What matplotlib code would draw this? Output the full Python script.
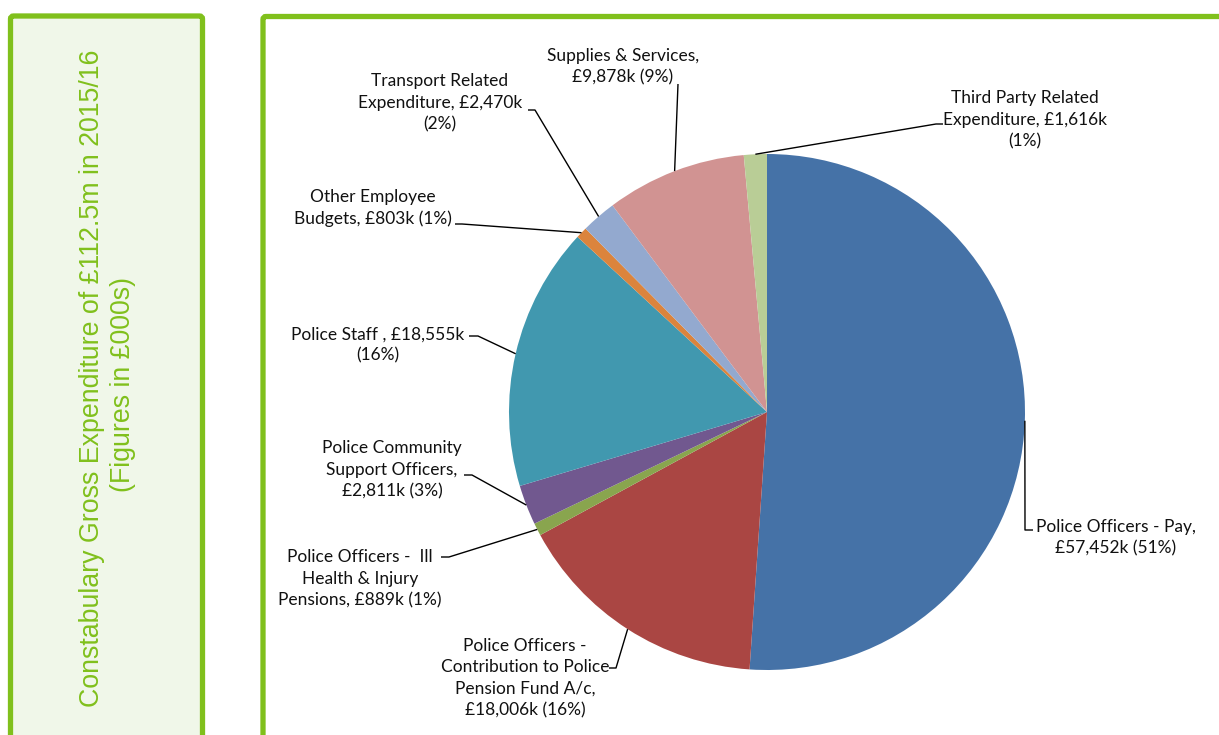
import numpy as np
import matplotlib
matplotlib.use("Agg")
import matplotlib.pyplot as plt
from matplotlib.patches import FancyBboxPatch

# slice data, clockwise from 12 o'clock
labels = [
    "Police Officers - Pay,\n£57,452k (51%)",
    "Police Officers -\nContribution to Police\nPension Fund A/c,\n£18,006k (16%)",
    "Police Officers -  Ill\nHealth & Injury\nPensions, £889k (1%)",
    "Police Community\nSupport Officers,\n£2,811k (3%)",
    "Police Staff , £18,555k\n(16%)",
    "Other Employee\nBudgets, £803k (1%)",
    "Transport Related\nExpenditure, £2,470k\n(2%)",
    "Supplies & Services,\n£9,878k (9%)",
    "Third Party Related\nExpenditure, £1,616k\n(1%)",
]
values = [57452, 18006, 889, 2811, 18555, 803, 2470, 9878, 1616]
colors = ["#4572A7", "#AA4643", "#89A54E", "#71588F", "#4198AF",
          "#DB843D", "#93A9CF", "#D19392", "#B9CD96"]

W, H = 1219, 735
GREEN = "#80C01C"

# label layout in image pixels: text centre, elbow point, line end at text
label_pos = [(1116, 538), (525, 678), (360, 579), (392, 470), (378, 345),
             (373, 208), (440, 103), (623, 67), (1025, 120)]
elbows = [(1025, 530), (616, 668), (449, 557), (472, 475), (478, 336),
          (462, 224), (535, 110), (678, 84), (936, 124)]
ends = [(1033, 530), (609, 668), (441, 557), (464, 475), (469, 336),
        (455, 224), (528, 110), (678, 84), (943, 124)]

cx, cy, R = 767, 412, 258

fig = plt.figure(figsize=(W / 100, H / 100), dpi=100)
ax = fig.add_axes([0, 0, 1, 1])


def fy(y):
    return H - y


# frames
left = FancyBboxPatch((10.5, fy(760)), 192, 760 - 16, boxstyle="round,pad=0,rounding_size=3",
                      facecolor="#F0F7E9", edgecolor=GREEN, linewidth=3.8)
right = FancyBboxPatch((263, fy(760)), 980, 760 - 16.5, boxstyle="round,pad=0,rounding_size=3",
                       facecolor="white", edgecolor=GREEN, linewidth=3.8)
ax.add_patch(left)
ax.add_patch(right)

wedges, _ = ax.pie(values, colors=colors, startangle=90, counterclock=False,
                   radius=R, center=(cx, fy(cy)), frame=True,
                   wedgeprops=dict(linewidth=0))

total = sum(values)
cum = 0
for i, v in enumerate(values):
    mid = cum + v / 2
    cum += v
    ang = np.deg2rad(90 - 360 * mid / total)
    px = cx + R * np.cos(ang)
    py = cy - R * np.sin(ang)
    xs = [px, elbows[i][0], ends[i][0]]
    ys = [fy(py), fy(elbows[i][1]), fy(ends[i][1])]
    ax.plot(xs, ys, color="black", linewidth=1.0, solid_capstyle="butt", zorder=5)
    tx, ty = label_pos[i]
    ax.text(tx, fy(ty), labels[i], ha="center", va="center", fontsize=12.5,
            family="Lato", color="#111111", linespacing=1.42, zorder=6)

ax.text(92, fy(378), "Constabulary Gross Expenditure of £112.5m in 2015/16",
        rotation=90, ha="center", va="center", fontsize=19.3,
        family="Liberation Sans", color=GREEN)
ax.text(123, fy(384), "(Figures in £000s)", rotation=90, ha="center",
        va="center", fontsize=19.3, family="Liberation Sans", color=GREEN)

ax.set_xlim(0, W)
ax.set_ylim(0, H)
ax.set_aspect("auto")
ax.axis("off")

fig.savefig("out.png", dpi=100, facecolor="white")
